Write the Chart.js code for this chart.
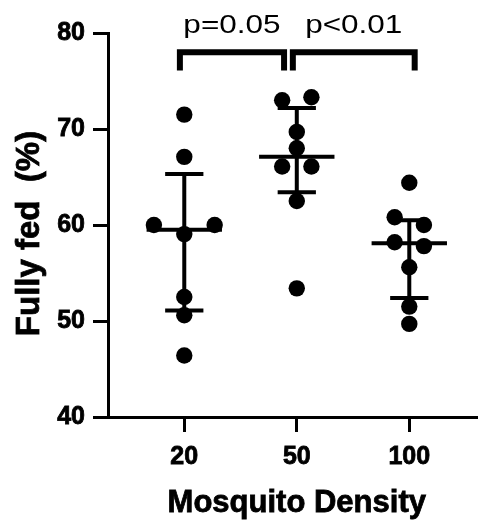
<!DOCTYPE html>
<html lang="en">
<head>
  <meta charset="UTF-8" />
  <title>Fully fed by mosquito density</title>
  <script src="https://cdn.jsdelivr.net/npm/chart.js"></script>
  <style>
    html, body { margin:0; padding:0; background:#fff; }
    #wrap { width:486px; height:523px; }
  </style>
</head>
<body>
  <div id="wrap"><canvas id="fedChart" width="486" height="523"></canvas></div>

  <script>
    // groups along the x axis
    const densities = ['20', '50', '100'];

    // % fully fed, one array per density
    const fed20  = [71.5, 67.1, 60.0, 60.0, 59.05, 52.5, 50.6, 46.4];
    const fed50  = [73.0, 73.3, 69.7, 68.0, 66.1, 66.1, 62.5, 53.4];
    const fed100 = [64.4, 60.8, 60.0, 58.2, 57.8, 55.6, 51.5, 49.7];

    // median and interquartile range per group
    const medians   = [59.5, 67.1, 58.1];
    const lowerBars = [51.1, 63.4, 52.4];
    const upperBars = [65.3, 72.2, 60.5];

    // comparisons shown above the groups
    const pLabels = ['p=0.05', 'p<0.01'];

    const xTitle = 'Mosquito Density';
    const yTitle = 'Fully fed  (%)';

    // side-by-side spreading of tied points (-1 left, 0 centre, 1 right)
    const jitter20  = [0, 0, -1, 1, 0, 0, 0, 0];
    const jitter50  = [-1, 1, 0, 0, -1, 1, 0, 0];
    const jitter100 = [0, -1, 1, -1, 1, 0, 0, 0];
    const jitterStep = [0.27, 0.13, 0.13];

    // bracket geometry in axis units
    const bracketSpans = [[0.961, 1.887], [1.965, 3.048]];
    const bracketTop = 78.0, bracketFoot = 76.1;

    const FONT = "'Liberation Sans', Arial, Helvetica, sans-serif";

    const groups = [fed20, fed50, fed100];
    const jitters = [jitter20, jitter50, jitter100];
    const points = [];
    groups.forEach((vals, g) => {
      vals.forEach((v, i) => points.push({ x: g + 1 + jitters[g][i] * jitterStep[g], y: v }));
    });

    // median line, whisker and caps, broken up with gaps
    const bars = [];
    const gap = x => ({ x: x, y: null });
    medians.forEach((m, g) => {
      const x = g + 1;
      bars.push({ x: x - 0.335, y: m }, { x: x + 0.335, y: m }, gap(x));
      bars.push({ x: x, y: lowerBars[g] }, { x: x, y: upperBars[g] }, gap(x));
      bars.push({ x: x - 0.17, y: upperBars[g] }, { x: x + 0.17, y: upperBars[g] }, gap(x));
      bars.push({ x: x - 0.17, y: lowerBars[g] }, { x: x + 0.17, y: lowerBars[g] }, gap(x));
    });

    const brackets = [];
    bracketSpans.forEach(([a, b]) => {
      brackets.push({ x: a, y: bracketFoot }, { x: a, y: bracketTop },
                    { x: b, y: bracketTop }, { x: b, y: bracketFoot }, gap(b));
    });

    function boldText(ctx, text, size) {
      ctx.font = 'bold ' + size + 'px ' + FONT;
      ctx.lineWidth = 0.8;
      ctx.strokeStyle = '#000';
      ctx.strokeText(text, 0, 0);
      ctx.fillText(text, 0, 0);
    }

    // p-values over the brackets, plus the two axis titles
    const annotatePlugin = {
      id: 'annotate',
      afterDraw(chart) {
        const { ctx, chartArea, scales: { x, y } } = chart;
        ctx.save();
        ctx.fillStyle = '#000';
        ctx.textAlign = 'center';
        ctx.textBaseline = 'alphabetic';
        ctx.font = '25px ' + FONT;
        bracketSpans.forEach(([a, b], i) => {
          ctx.save();
          ctx.translate(x.getPixelForValue((a + b) / 2), y.getPixelForValue(80));
          ctx.scale(1.26, 1);
          ctx.fillText(pLabels[i], 0, 0);
          ctx.restore();
        });

        ctx.save();
        ctx.translate(x.getPixelForValue(2), chart.height - 11);
        boldText(ctx, xTitle, 31);
        ctx.restore();

        ctx.save();
        ctx.translate(39, (chartArea.top + chartArea.bottom) / 2 + 8.5);
        ctx.rotate(-Math.PI / 2);
        boldText(ctx, yTitle, 33);
        ctx.restore();
        ctx.restore();
      }
    };

    const tickFont = { family: FONT, size: 25, weight: 'bold' };
    const axisGrid = { drawOnChartArea: false, drawTicks: true, tickLength: 15, tickWidth: 3, tickColor: '#000' };

    new Chart(document.getElementById('fedChart'), {
      type: 'scatter',
      data: {
        datasets: [
          { data: points, backgroundColor: '#000', borderWidth: 0, pointRadius: 8.2, order: 2 },
          { type: 'line', data: bars, borderColor: '#000', borderWidth: 4, pointRadius: 0,
            borderCapStyle: 'butt', spanGaps: false, order: 1 },
          { type: 'line', data: brackets, borderColor: '#000', borderWidth: 6, pointRadius: 0,
            borderJoinStyle: 'miter', borderCapStyle: 'butt', spanGaps: false, order: 0 }
        ]
      },
      options: {
        responsive: false,
        animation: false,
        events: [],
        clip: false,
        layout: { padding: { top: 33, right: 0, left: 0, bottom: 0 } },
        plugins: { legend: { display: false }, tooltip: { enabled: false } },
        scales: {
          x: {
            type: 'linear',
            min: 0.322, max: 3.609,
            afterFit(s) { s.height = 106; },
            afterBuildTicks(s) { s.ticks = densities.map((d, i) => ({ value: i + 1 })); },
            ticks: {
              callback: (v, i) => densities[i],
              color: '#000', padding: 10, font: tickFont,
              textStrokeColor: '#000', textStrokeWidth: 0.8
            },
            grid: axisGrid,
            border: { color: '#000', width: 3 }
          },
          y: {
            min: 40, max: 80,
            afterFit(s) { s.width = 108; },
            ticks: {
              stepSize: 10, color: '#000', padding: 8, font: tickFont,
              textStrokeColor: '#000', textStrokeWidth: 0.8
            },
            grid: axisGrid,
            border: { color: '#000', width: 3 }
          }
        }
      },
      plugins: [annotatePlugin]
    });
  </script>
</body>
</html>
